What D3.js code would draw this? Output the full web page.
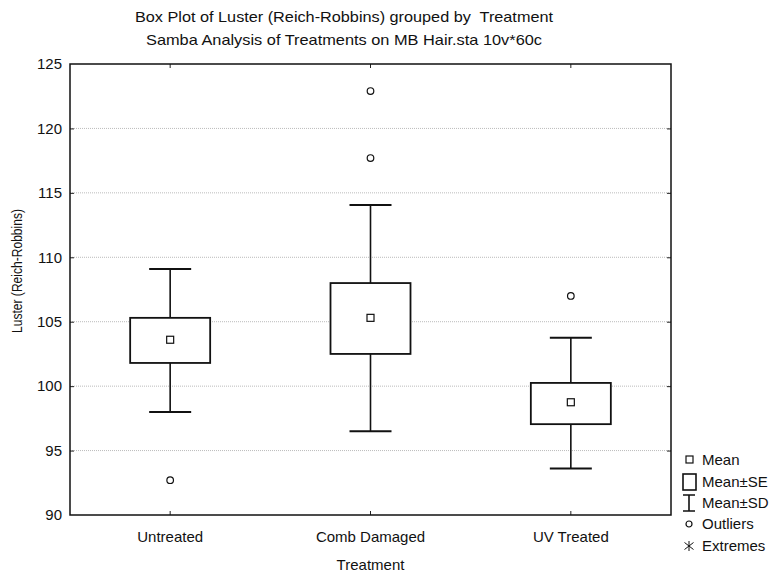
<!DOCTYPE html>
<html>
<head>
<meta charset="utf-8">
<script src="https://cdn.jsdelivr.net/npm/d3@7"></script>
<style>
body { margin: 0; background: #fff; }
text { font-family: "Liberation Sans", Arial, sans-serif; fill: #111; }
</style>
</head>
<body>
<script>
var width = 771;
var height = 578;

// data
var categories = ["Untreated", "Comb Damaged", "UV Treated"];
var means  = [103.6, 105.3, 98.75];
var seLow  = [101.8, 102.5, 97.05];
var seHigh = [105.3, 108.0, 100.25];
var sdLow  = [98.0, 96.5, 93.6];
var sdHigh = [109.1, 114.05, 103.75];
var outliers = [[92.7], [117.7, 122.9], [107.0]];
var yTicks = [90, 95, 100, 105, 110, 115, 120, 125];
var legendItems = ["Mean", "Mean\u00b1SE", "Mean\u00b1SD", "Outliers", "Extremes"];

var pLeft = 70, pTop = 64, pRight = 671, pBottom = 515;

var svg = d3.select("body")
    .append("svg")
    .attr("width", width)
    .attr("height", height);

var x = d3.scaleBand()
    .domain(categories)
    .range([pLeft, pRight]);

var y = d3.scaleLinear()
    .domain([90, 125])
    .range([pBottom, pTop]);

var cx = function(i) { return x(categories[i]) + x.bandwidth() / 2; };

// titles
svg.append("text")
    .attr("x", 344).attr("y", 22)
    .attr("text-anchor", "middle")
    .attr("textLength", 418)
    .attr("lengthAdjust", "spacingAndGlyphs")
    .style("font-size", "15px")
    .style("white-space", "pre")
    .text("Box Plot of Luster (Reich-Robbins) grouped by  Treatment");
svg.append("text")
    .attr("x", 344).attr("y", 45)
    .attr("text-anchor", "middle")
    .attr("textLength", 396)
    .attr("lengthAdjust", "spacingAndGlyphs")
    .style("font-size", "15px")
    .text("Samba Analysis of Treatments on MB Hair.sta 10v*60c");

// grid
svg.append("g")
    .selectAll("line")
    .data(yTicks.slice(1, -1))
    .enter().append("line")
    .attr("x1", pLeft).attr("x2", pRight)
    .attr("y1", function(d) { return y(d); })
    .attr("y2", function(d) { return y(d); })
    .attr("stroke", "#bbb")
    .attr("stroke-width", 1)
    .attr("stroke-dasharray", "1,1");

// axes
var gy = svg.append("g").attr("transform", "translate(" + pLeft + ",0)")
    .call(d3.axisLeft(y).tickValues(yTicks).tickSize(0).tickPadding(8));
gy.select(".domain").remove();
gy.selectAll("text").style("font-size", "15px").style("font-family", "Liberation Sans, Arial, sans-serif").attr("fill", "#111");

var gyR = svg.append("g").attr("transform", "translate(" + pRight + ",0)")
    .call(d3.axisLeft(y).tickValues(yTicks.slice(1, -1)).tickSize(4).tickFormat(""));
gyR.select(".domain").remove();
gyR.selectAll("line").attr("stroke", "#222");

var gyL2 = svg.append("g").attr("transform", "translate(" + pLeft + ",0)")
    .call(d3.axisRight(y).tickValues(yTicks.slice(1, -1)).tickSize(4).tickFormat(""));
gyL2.select(".domain").remove();
gyL2.selectAll("line").attr("stroke", "#222");

var gx = svg.append("g").attr("transform", "translate(0," + pBottom + ")")
    .call(d3.axisTop(x).tickSize(4).tickFormat(""));
gx.select(".domain").remove();
gx.selectAll("line").attr("stroke", "#222");

var gxT = svg.append("g").attr("transform", "translate(0," + pTop + ")")
    .call(d3.axisBottom(x).tickSize(4).tickFormat(""));
gxT.select(".domain").remove();
gxT.selectAll("line").attr("stroke", "#222");

svg.append("g")
    .selectAll("text")
    .data(categories)
    .enter().append("text")
    .attr("x", function(d) { return x(d) + x.bandwidth() / 2; })
    .attr("y", pBottom + 27)
    .attr("text-anchor", "middle")
    .style("font-size", "15px")
    .text(function(d) { return d; });

svg.append("text")
    .attr("x", (pLeft + pRight) / 2).attr("y", 570)
    .attr("text-anchor", "middle")
    .style("font-size", "15px")
    .text("Treatment");

svg.append("text")
    .attr("transform", "translate(22,271) rotate(-90)")
    .attr("text-anchor", "middle")
    .attr("textLength", 124)
    .attr("lengthAdjust", "spacingAndGlyphs")
    .style("font-size", "15px")
    .text("Luster (Reich-Robbins)");

// frame
svg.append("rect")
    .attr("x", pLeft).attr("y", pTop)
    .attr("width", pRight - pLeft).attr("height", pBottom - pTop)
    .attr("fill", "none")
    .attr("stroke", "#111")
    .attr("stroke-width", 1.5);

// boxes
var boxW = 80, capW = 42;
var groups = svg.selectAll(".box")
    .data(categories)
    .enter().append("g")
    .attr("class", "box");

groups.append("line")
    .attr("x1", function(d, i) { return cx(i); })
    .attr("x2", function(d, i) { return cx(i); })
    .attr("y1", function(d, i) { return y(sdHigh[i]); })
    .attr("y2", function(d, i) { return y(seHigh[i]); })
    .attr("stroke", "#111").attr("stroke-width", 1.6);
groups.append("line")
    .attr("x1", function(d, i) { return cx(i); })
    .attr("x2", function(d, i) { return cx(i); })
    .attr("y1", function(d, i) { return y(seLow[i]); })
    .attr("y2", function(d, i) { return y(sdLow[i]); })
    .attr("stroke", "#111").attr("stroke-width", 1.6);
groups.append("line")
    .attr("x1", function(d, i) { return cx(i) - capW / 2; })
    .attr("x2", function(d, i) { return cx(i) + capW / 2; })
    .attr("y1", function(d, i) { return y(sdHigh[i]); })
    .attr("y2", function(d, i) { return y(sdHigh[i]); })
    .attr("stroke", "#111").attr("stroke-width", 2);
groups.append("line")
    .attr("x1", function(d, i) { return cx(i) - capW / 2; })
    .attr("x2", function(d, i) { return cx(i) + capW / 2; })
    .attr("y1", function(d, i) { return y(sdLow[i]); })
    .attr("y2", function(d, i) { return y(sdLow[i]); })
    .attr("stroke", "#111").attr("stroke-width", 2);
groups.append("rect")
    .attr("x", function(d, i) { return cx(i) - boxW / 2; })
    .attr("y", function(d, i) { return y(seHigh[i]); })
    .attr("width", boxW)
    .attr("height", function(d, i) { return y(seLow[i]) - y(seHigh[i]); })
    .attr("fill", "#fff")
    .attr("stroke", "#111").attr("stroke-width", 1.8);
groups.append("rect")
    .attr("x", function(d, i) { return cx(i) - 3.5; })
    .attr("y", function(d, i) { return y(means[i]) - 3.5; })
    .attr("width", 7).attr("height", 7)
    .attr("fill", "#fff")
    .attr("stroke", "#111").attr("stroke-width", 1.2);

groups.each(function(d, i) {
    d3.select(this).selectAll("circle")
        .data(outliers[i])
        .enter().append("circle")
        .attr("cx", cx(i))
        .attr("cy", function(v) { return y(v); })
        .attr("r", 3.3)
        .attr("fill", "#fff")
        .attr("stroke", "#111")
        .attr("stroke-width", 1.2);
});

// legend
var lx = 683, ly = [460, 482, 503, 524, 546];
var legend = svg.selectAll(".legend")
    .data(legendItems)
    .enter().append("g")
    .attr("class", "legend")
    .attr("transform", function(d, i) { return "translate(" + lx + "," + ly[i] + ")"; });

legend.append("text")
    .attr("x", 19)
    .attr("dy", ".35em")
    .style("font-size", "15px")
    .text(function(d) { return d; });

var l0 = d3.select(legend.nodes()[0]);
l0.append("rect").attr("x", 3).attr("y", -4).attr("width", 7).attr("height", 7)
    .attr("fill", "#fff").attr("stroke", "#111").attr("stroke-width", 1.2);
var l1 = d3.select(legend.nodes()[1]);
l1.append("rect").attr("x", 0).attr("y", -8).attr("width", 13).attr("height", 16)
    .attr("fill", "#fff").attr("stroke", "#111").attr("stroke-width", 1.6);
var l2 = d3.select(legend.nodes()[2]);
l2.append("path").attr("d", "M0,-8H12M6,-8V8M0,8H12")
    .attr("fill", "none").attr("stroke", "#111").attr("stroke-width", 1.6);
var l3 = d3.select(legend.nodes()[3]);
l3.append("circle").attr("cx", 6).attr("cy", 0).attr("r", 3)
    .attr("fill", "#fff").attr("stroke", "#111").attr("stroke-width", 1.2);
var l4 = d3.select(legend.nodes()[4]);
l4.append("path").attr("d", "M6,-5V5M1.5,-3.5L10.5,3.5M1.5,3.5L10.5,-3.5")
    .attr("fill", "none").attr("stroke", "#111").attr("stroke-width", 1);
</script>
</body>
</html>
